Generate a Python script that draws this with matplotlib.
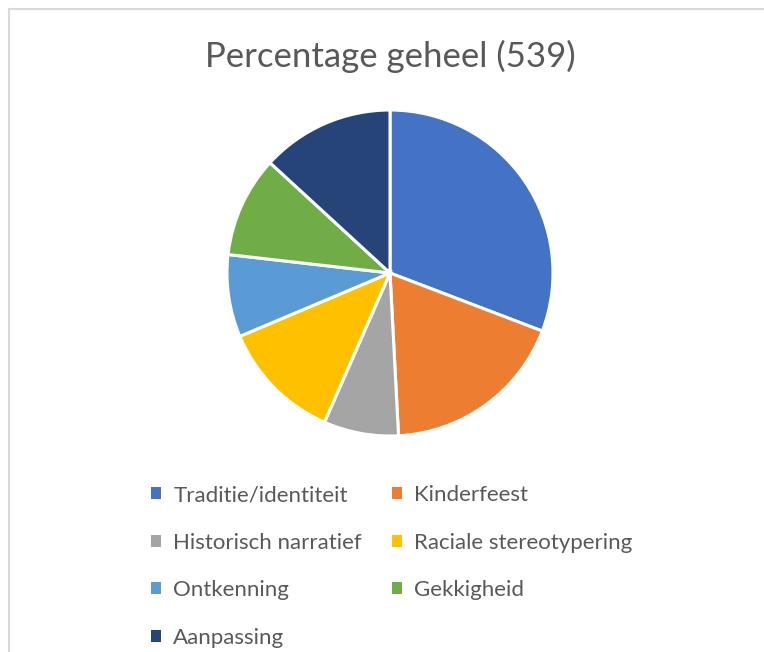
import matplotlib.pyplot as plt
from matplotlib.lines import Line2D
from matplotlib.patches import Patch

# Categorieen en aantallen (totaal 539)
labels = ['Traditie/identiteit', 'Kinderfeest', 'Historisch narratief',
          'Raciale stereotypering', 'Ontkenning', 'Gekkigheid', 'Aanpassing']
counts = [166, 99, 40, 65, 44, 54, 71]
colors = ['#4472C4', '#ED7D31', '#A5A5A5', '#FFC000', '#5B9BD5', '#70AD47', '#264478']
title = 'Percentage geheel (539)'

W, H = 764, 652
fig = plt.figure(figsize=(W / 100, H / 100), dpi=100)
plt.rcParams['font.family'] = ['Lato', 'DejaVu Sans']

# rand van het kader (boven en links)
fig.add_artist(Line2D([9 / W, 1], [1 - 9 / H, 1 - 9 / H], color='#D9D9D9', lw=1.5))
fig.add_artist(Line2D([9 / W, 9 / W], [0, 1 - 9 / H], color='#D9D9D9', lw=1.5))

cx, cy, r = 390, 273, 163
ax = fig.add_axes([(cx - r) / W, (H - cy - r) / H, 2 * r / W, 2 * r / H])
ax.pie(counts, colors=colors, startangle=90, counterclock=False,
       wedgeprops=dict(edgecolor='white', linewidth=2.2))
ax.set_xlim(-1, 1)
ax.set_ylim(-1, 1)

fig.text(390 / W, 1 - 56 / H, title, ha='center', va='center',
         fontsize=25, color='#595959')

# legenda: rijgewijs zoals in Excel
order = [0, 2, 4, 6, 1, 3, 5]
handles = [Patch(facecolor=colors[i], label=labels[i]) for i in order]
fig.legend(handles=handles, ncol=2, frameon=False,
           loc='upper left', bbox_to_anchor=(131 / W, 1 - 465 / H),
           fontsize=16, labelcolor='#595959',
           handlelength=0.45, handleheight=0.45, handletextpad=0.55,
           columnspacing=1.35, labelspacing=1.24)

fig.savefig('out.png', dpi=100)
